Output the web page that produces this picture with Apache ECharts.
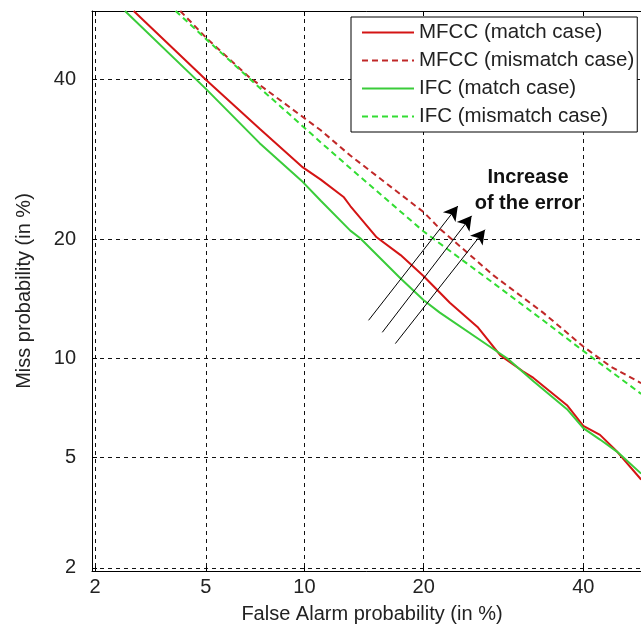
<!DOCTYPE html>
<html><head><meta charset="utf-8">
<script src="https://cdn.jsdelivr.net/npm/echarts@6/dist/echarts.min.js"></script>
<style>html,body{margin:0;padding:0;background:#fff}#c{width:641px;height:626px}</style>
</head><body><div id="c"></div>
<script>
// ---- data (percent values) ----
const tickValues = [2, 5, 10, 20, 40];
const xRangePct = [1.947, 50];
const yRangePct = [1.945, 50];
const seriesNames = ['MFCC (match case)', 'MFCC (mismatch case)', 'IFC (match case)', 'IFC (mismatch case)'];
const mfccMatch = [[2.8,50],[5.0,40.0],[7.4,33.2],[9.9,28.2],[11.1,26.7],[12.8,24.6],[13.3,23.6],[15.5,20.2],[17.7,18.4],[20.0,16.4],[22.8,14.1],[26.0,12.2],[28.8,10.2],[31.7,9.2],[33.1,8.8],[37.7,7.3],[40.0,6.3],[42.4,5.9],[44.9,5.2],[48.4,4.2]];
const mfccMismatch = [[4.1,50],[5.0,46.1],[6.9,40.3],[11.1,33.0],[13.3,29.7],[20.0,22.9],[21.7,21.1],[27.9,16.5],[34.4,13.3],[40.0,10.8],[43.9,9.5],[48.4,8.5]];
const ifcMatch = [[2.6,50],[5.0,38.7],[7.4,31.3],[9.9,26.4],[11.1,24.2],[13.3,20.9],[14.1,20.1],[17.7,16.2],[20.0,14.3],[21.7,13.3],[27.2,10.9],[29.7,10.0],[33.1,8.6],[37.7,7.1],[40.0,6.2],[42.4,5.7],[44.9,5.2],[48.4,4.4]];
const ifcMismatch = [[3.95,50],[5.0,45.9],[7.1,39.6],[11.1,31.4],[13.3,28.1],[20.0,20.8],[27.9,15.8],[34.4,12.7],[40.0,10.5],[48.4,7.9]];
// annotation arrows: [tail, head] in percent
const arrows = [[[14.8,12.7],[23.7,23.6]],[[16.0,11.8],[25.3,22.5]],[[17.2,11.0],[26.9,21.0]]];
const annotationLines = ['Increase', 'of the error'];

// ---- probit (normal deviate) transform ----
function probit(p){
  const a=[-3.969683028665376e+01,2.209460984245205e+02,-2.759285104469687e+02,1.383577518672690e+02,-3.066479806614716e+01,2.506628277459239e+00];
  const b=[-5.447609879822406e+01,1.615858368580409e+02,-1.556989798598866e+02,6.680131188771972e+01,-1.328068155288572e+01];
  const c=[-7.784894002430293e-03,-3.223964580411365e-01,-2.400758277161838e+00,-2.549732539343734e+00,4.374664141464968e+00,2.938163982698783e+00];
  const d=[7.784695709041462e-03,3.224671290700398e-01,2.445134137142996e+00,3.754408661907416e+00];
  const pl=0.02425, ph=1-pl; let q,r;
  if(p<pl){q=Math.sqrt(-2*Math.log(p));return (((((c[0]*q+c[1])*q+c[2])*q+c[3])*q+c[4])*q+c[5])/((((d[0]*q+d[1])*q+d[2])*q+d[3])*q+1);}
  if(p<=ph){q=p-0.5;r=q*q;return (((((a[0]*r+a[1])*r+a[2])*r+a[3])*r+a[4])*r+a[5])*q/(((((b[0]*r+b[1])*r+b[2])*r+b[3])*r+b[4])*r+1);}
  q=Math.sqrt(-2*Math.log(1-p));return -(((((c[0]*q+c[1])*q+c[2])*q+c[3])*q+c[4])*q+c[5])/((((d[0]*q+d[1])*q+d[2])*q+d[3])*q+1);
}
const P = v => probit(v/100);
const toP = arr => arr.map(([x,y]) => [P(x), P(y)]);
const tickP = tickValues.map(P);
const fmt = v => { let best=0, bd=1e9; tickP.forEach((t,i)=>{const dd=Math.abs(t-v); if(dd<bd){bd=dd;best=i;}}); return String(tickValues[best]); };

const FONT = '"Liberation Sans", Arial, sans-serif';
const gridLine = {show:true, lineStyle:{color:'#111', width:1, type:[4,4]}};
const tickStyle = {show:true, inside:true, length:5, customValues: tickP, lineStyle:{color:'#000', width:1}};

const chart = echarts.init(document.getElementById('c'), null, {renderer:'canvas'});
chart.setOption({
  animation:false,
  backgroundColor:'#fff',
  grid:{left:92, top:11, right:-11, bottom:55, containLabel:false, outerBoundsMode:'none'},
  xAxis:[{
    type:'value', min:P(xRangePct[0]), max:P(xRangePct[1]),
    axisLine:{show:true, onZero:false, lineStyle:{color:'#000', width:1}},
    axisTick:tickStyle,
    axisLabel:{customValues:tickP, formatter:fmt, fontFamily:FONT, fontSize:20, color:'#222', margin:6},
    splitLine:gridLine,
    name:'False Alarm probability (in %)', nameLocation:'middle', nameGap:33,
    nameTextStyle:{fontFamily:FONT, fontSize:20, color:'#222'}
  },{
    type:'value', position:'top', min:P(xRangePct[0]), max:P(xRangePct[1]),
    axisLine:{show:true, onZero:false, lineStyle:{color:'#000', width:1}},
    axisTick:tickStyle, axisLabel:{show:false}, splitLine:{show:false}
  }],
  yAxis:{
    type:'value', min:P(yRangePct[0]), max:P(yRangePct[1]),
    axisLine:{show:true, onZero:false, lineStyle:{color:'#000', width:1}},
    axisTick:tickStyle,
    axisLabel:{customValues:tickP, formatter:fmt, fontFamily:FONT, fontSize:20, color:'#222', margin:16},
    splitLine:gridLine,
    name:'Miss probability (in %)', nameLocation:'middle', nameGap:58,
    nameTextStyle:{fontFamily:FONT, fontSize:20, color:'#222'}
  },
  legend:{
    orient:'vertical', left:351, top:17, itemWidth:52, itemHeight:14, itemGap:7,
    padding:[5,3,5,10], backgroundColor:'#fff', borderColor:'#000', borderWidth:1, borderRadius:0,
    itemStyle:{opacity:0},
    textStyle:{fontFamily:FONT, fontSize:20.5, color:'#222'},
    data:seriesNames
  },
  series:[
    {name:seriesNames[0], type:'line', data:toP(mfccMatch), symbol:'none', color:'#d41414',
     lineStyle:{color:'#d41414', width:2},
     markLine:{silent:true, symbol:['none','arrow'], symbolSize:[12,14], label:{show:false},
       lineStyle:{color:'#000', width:1, type:'solid'},
       data: arrows.map(([t,h]) => [{coord:[P(t[0]),P(t[1])]},{coord:[P(h[0]),P(h[1])]}])}},
    {name:seriesNames[1], type:'line', data:toP(mfccMismatch), symbol:'none', color:'#c02828',
     lineStyle:{color:'#c02828', width:2, type:[6,4]}},
    {name:seriesNames[2], type:'line', data:toP(ifcMatch), symbol:'none', color:'#3acc3a',
     lineStyle:{color:'#3acc3a', width:2}},
    {name:seriesNames[3], type:'line', data:toP(ifcMismatch), symbol:'none', color:'#33dd33',
     lineStyle:{color:'#33dd33', width:2, type:[6,4]}}
  ],
  graphic:[
    {type:'text', x:528, y:177, z:100, style:{text:annotationLines[0], font:'bold 20px '+FONT, fill:'#111', align:'center', verticalAlign:'middle'}},
    {type:'text', x:528, y:203, z:100, style:{text:annotationLines[1], font:'bold 20px '+FONT, fill:'#111', align:'center', verticalAlign:'middle'}}
  ]
});
</script></body></html>
